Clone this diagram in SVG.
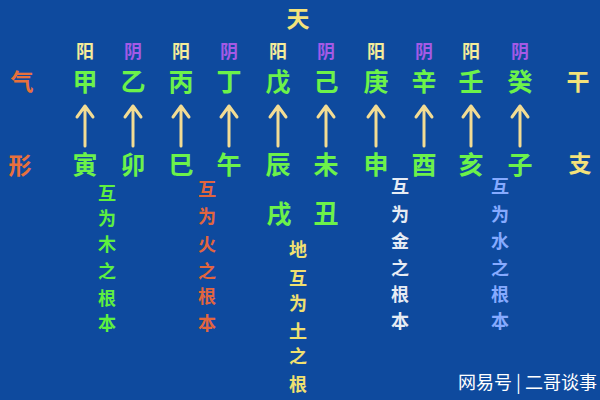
<svg xmlns="http://www.w3.org/2000/svg" width="600" height="400" viewBox="0 0 600 400">
<defs>
<style>
text{font-family:"Noto Sans CJK SC","Noto Sans CJK TC",sans-serif;text-anchor:middle;dominant-baseline:central;font-weight:bold}
.yy{font-size:18px}
.yang{fill:#f4ec9a}
.yin{fill:#a45ae6}
.stem{font-size:25px;fill:#6cf24a}
.side{font-size:23px;fill:#e8703c}
.lab{font-size:23px;fill:#f4e27a}
.col{font-size:18px}
.arrow{stroke:#f2dc94;stroke-width:3;fill:none;stroke-linecap:round;stroke-linejoin:round}
.wm{fill:#ffffff;font-weight:normal;text-anchor:start;font-size:18px}
</style>
</defs>
<rect width="600" height="400" fill="#0e4a9e"/>
<g id="title"><text x="298" y="17" class="lab">天</text></g>
<g id="labels">
<text x="22" y="80" class="side">气</text>
<text x="20" y="164" class="side">形</text>
<text x="578" y="80" class="lab">干</text>
<text x="580" y="162" class="lab">支</text>
</g>
<g id="yinyang" class="yy">
<text x="85" y="50" class="yang">阳</text>
<text x="133" y="50" class="yin">阴</text>
<text x="181" y="50" class="yang">阳</text>
<text x="229" y="50" class="yin">阴</text>
<text x="278" y="50" class="yang">阳</text>
<text x="326" y="50" class="yin">阴</text>
<text x="376" y="50" class="yang">阳</text>
<text x="424" y="50" class="yin">阴</text>
<text x="471" y="50" class="yang">阳</text>
<text x="520" y="50" class="yin">阴</text>
</g>
<g id="stems" class="stem">
<text x="85" y="80">甲</text>
<text x="133" y="80">乙</text>
<text x="181" y="80">丙</text>
<text x="229" y="80">丁</text>
<text x="278" y="80">戊</text>
<text x="326" y="80">己</text>
<text x="376" y="80">庚</text>
<text x="424" y="80">辛</text>
<text x="471" y="80">壬</text>
<text x="520" y="80">癸</text>
</g>
<g id="connectors" class="arrow">
<path d="M85 146V106M77 117L85 106L93 117"/>
<path d="M133 146V106M125 117L133 106L141 117"/>
<path d="M181 146V106M173 117L181 106L189 117"/>
<path d="M229 146V106M221 117L229 106L237 117"/>
<path d="M278 146V106M270 117L278 106L286 117"/>
<path d="M326 146V106M318 117L326 106L334 117"/>
<path d="M376 146V106M368 117L376 106L384 117"/>
<path d="M424 146V106M416 117L424 106L432 117"/>
<path d="M471 146V106M463 117L471 106L479 117"/>
<path d="M520 146V106M512 117L520 106L528 117"/>
</g>
<g id="branches" class="stem">
<text x="85" y="163">寅</text>
<text x="133" y="163">卯</text>
<text x="181" y="163">巳</text>
<text x="229" y="163">午</text>
<text x="278" y="163">辰</text>
<text x="326" y="163">未</text>
<text x="376" y="163">申</text>
<text x="424" y="163">酉</text>
<text x="471" y="163">亥</text>
<text x="520" y="163">子</text>
</g>
<g id="earth-branches" class="stem">
<text x="279" y="212">戌</text>
<text x="326" y="212">丑</text>
</g>
<g id="wood" class="col" fill="#5ef040">
<text x="107" y="192">互</text><text x="107" y="217">为</text><text x="107" y="243">木</text><text x="107" y="270">之</text><text x="107" y="297">根</text><text x="107" y="322">本</text>
</g>
<g id="fire" class="col" fill="#e2653e">
<text x="207" y="188">互</text><text x="207" y="215">为</text><text x="207" y="243">火</text><text x="207" y="270">之</text><text x="207" y="295">根</text><text x="207" y="322">本</text>
</g>
<g id="earth" class="col" fill="#f0e070">
<text x="298" y="248">地</text><text x="298" y="277">互</text><text x="298" y="302">为</text><text x="298" y="330">土</text><text x="298" y="355">之</text><text x="298" y="383">根</text>
</g>
<g id="metal" class="col" fill="#e6ecf4">
<text x="400" y="185">互</text><text x="400" y="213">为</text><text x="400" y="240">金</text><text x="400" y="267">之</text><text x="400" y="293">根</text><text x="400" y="320">本</text>
</g>
<g id="water" class="col" fill="#86aaff">
<text x="500" y="185">互</text><text x="500" y="213">为</text><text x="500" y="240">水</text><text x="500" y="267">之</text><text x="500" y="293">根</text><text x="500" y="320">本</text>
</g>
<g id="watermark"><text x="458" y="381" class="wm">网易号 | 二哥谈事</text></g>
</svg>
